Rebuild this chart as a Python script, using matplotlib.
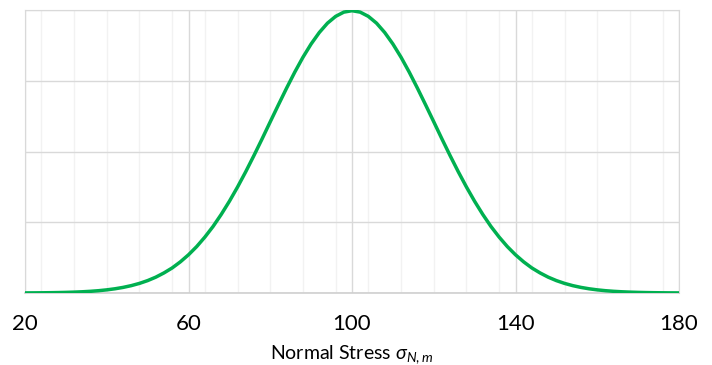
import numpy as np
import matplotlib.pyplot as plt
from matplotlib.ticker import MultipleLocator

# Valores (densidad), cada 2 unidades
x = [20, 22, 24, 26, 28, 30, 32, 34, 36, 38, 40, 42, 44, 46, 48, 50, 52, 54, 56, 58,
     60, 62, 64, 66, 68, 70, 72, 74, 76, 78, 80, 82, 84, 86, 88, 90, 92, 94, 96, 98,
     100, 102, 104, 106, 108, 110, 112, 114, 116, 118, 120, 122, 124, 126, 128, 130,
     132, 134, 136, 138, 140, 142, 144, 146, 148, 150, 152, 154, 156, 158, 160, 162,
     164, 166, 168, 170, 172, 174, 176, 178, 180]
y = [0.0000067, 0.0000099, 0.0000146, 0.0000212, 0.0000306, 0.0000436, 0.0000616,
     0.0000861, 0.000119, 0.000163, 0.000222, 0.000298, 0.000396, 0.000521, 0.000679,
     0.000876, 0.00112, 0.00142, 0.00177, 0.00220, 0.00270, 0.00328, 0.00395, 0.00470,
     0.00555, 0.00648, 0.00749, 0.00857, 0.00971, 0.01089, 0.01210, 0.01330, 0.01448,
     0.01561, 0.01666, 0.01760, 0.01841, 0.01907, 0.01955, 0.01985,
     0.01995,
     0.01985, 0.01955, 0.01907, 0.01841, 0.01760, 0.01666, 0.01561, 0.01448, 0.01330,
     0.01210, 0.01089, 0.00971, 0.00857, 0.00749, 0.00648, 0.00555, 0.00470, 0.00395,
     0.00328, 0.00270, 0.00220, 0.00177, 0.00142, 0.00112, 0.000876, 0.000679,
     0.000521, 0.000396, 0.000298, 0.000222, 0.000163, 0.000119, 0.0000861, 0.0000616,
     0.0000436, 0.0000306, 0.0000212, 0.0000146, 0.0000099, 0.0000067]
xticks = [20, 60, 100, 140, 180]

plt.rcParams['font.family'] = ['Lato', 'DejaVu Sans']
plt.rcParams['mathtext.fontset'] = 'custom'
plt.rcParams['mathtext.rm'] = 'Lato'
plt.rcParams['mathtext.it'] = 'Lato:italic'

fig = plt.figure(figsize=(7.12, 3.65), dpi=100)
ax = fig.add_axes([25 / 712, 1 - 293 / 365, 654 / 712, 283 / 365])

ax.plot(x, y, color='#00B050', lw=2.5, solid_capstyle='round', zorder=3)

ax.set_xlim(20, 180)
ax.set_ylim(0, 0.02)
ax.set_xticks(xticks)
ax.xaxis.set_minor_locator(MultipleLocator(8))
ax.yaxis.set_major_locator(MultipleLocator(0.005))
ax.grid(which='minor', axis='x', color='#F2F2F2', lw=1)
ax.grid(which='major', axis='x', color='#D9D9D9', lw=1)
ax.grid(which='major', axis='y', color='#D9D9D9', lw=1)
ax.set_axisbelow(True)

for s in ['left', 'right', 'top']:
    ax.spines[s].set_color('#D9D9D9')
ax.spines['bottom'].set_color('#CFCFCF')
ax.spines['bottom'].set_linewidth(1.2)

ax.tick_params(axis='x', which='both', length=0, labelsize=16, pad=15)
ax.tick_params(axis='y', which='both', length=0, labelleft=False)

ax.set_xlabel(r'Normal Stress $\sigma_{N,m}$', fontsize=14, labelpad=7)

fig.savefig('out.png', dpi=100)
